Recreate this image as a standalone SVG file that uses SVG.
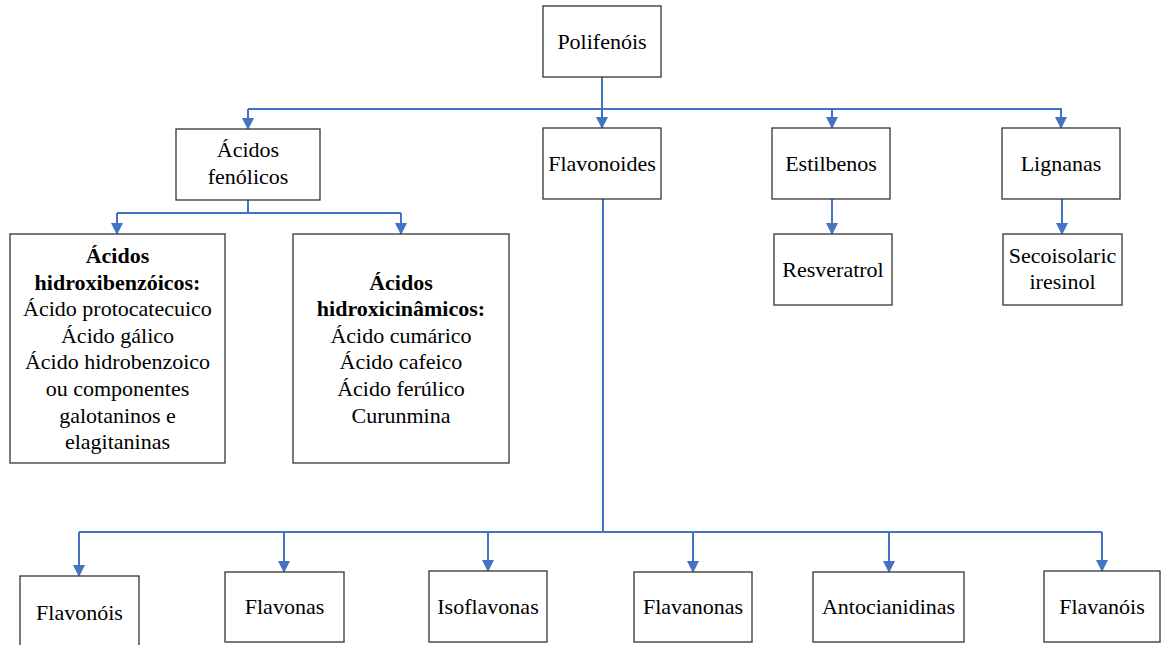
<svg xmlns="http://www.w3.org/2000/svg" width="1161" height="645" viewBox="0 0 1161 645">
<defs>
<style>
.box{fill:#fff;stroke:#333;stroke-width:1.3}
.t{font-family:'Liberation Serif','Times New Roman',serif;font-size:22px;fill:#000;text-anchor:middle}
.b{font-weight:bold}
.c{fill:none;stroke:#4472C4;stroke-width:2}
.a{stroke:#4472C4;stroke-width:2;fill:none;marker-end:url(#arr)}
</style>
<marker id="arr" markerUnits="userSpaceOnUse" markerWidth="12" markerHeight="12" refX="11" refY="6" orient="auto">
<path d="M0,0 L12,6 L0,12 z" fill="#4472C4"/>
</marker>
</defs>
<rect width="1161" height="645" fill="#fff"/>
<g id="connectors">
<path class="c" d="M602,77 V109 M248,109 H1062 M248,200 V213 M117,213 H401 M603,199 V532 M79,532 H1102"/>
<path class="a" d="M248,109 V129"/>
<path class="a" d="M602,109 V128"/>
<path class="a" d="M832,109 V128"/>
<path class="a" d="M1061,109 V128"/>
<path class="a" d="M117,213 V234"/>
<path class="a" d="M401,213 V234"/>
<path class="a" d="M832,199 V234"/>
<path class="a" d="M1062,199 V234"/>
<path class="a" d="M79,532 V576"/>
<path class="a" d="M284,532 V572"/>
<path class="a" d="M488,532 V571"/>
<path class="a" d="M693,532 V572"/>
<path class="a" d="M889,532 V572"/>
<path class="a" d="M1102,532 V571"/>
</g>
<g id="polifenois"><rect class="box" x="543" y="6" width="118" height="71"/><text class="t" x="602" y="49">Polifenóis</text></g>
<g id="acidos-fenolicos"><rect class="box" x="176" y="129" width="144" height="71"/><text class="t" x="248" y="157">Ácidos</text><text class="t" x="248" y="184">fenólicos</text></g>
<g id="flavonoides"><rect class="box" x="543" y="128" width="118" height="71"/><text class="t" x="602" y="171">Flavonoides</text></g>
<g id="estilbenos"><rect class="box" x="772" y="128" width="118" height="71"/><text class="t" x="831" y="171">Estilbenos</text></g>
<g id="lignanas"><rect class="box" x="1002" y="128" width="118" height="71"/><text class="t" x="1061" y="171">Lignanas</text></g>
<g id="hidroxibenzoicos"><rect class="box" x="10" y="234" width="215" height="229"/>
<text class="t b" x="117.5" y="263">Ácidos</text>
<text class="t b" x="117.5" y="290">hidroxibenzóicos:</text>
<text class="t" x="117.5" y="316">Ácido protocatecuico</text>
<text class="t" x="117.5" y="343">Ácido gálico</text>
<text class="t" x="117.5" y="369">Ácido hidrobenzoico</text>
<text class="t" x="117.5" y="396">ou componentes</text>
<text class="t" x="117.5" y="423">galotaninos e</text>
<text class="t" x="117.5" y="449">elagitaninas</text></g>
<g id="hidroxicinamicos"><rect class="box" x="293" y="234" width="216" height="229"/>
<text class="t b" x="401" y="290">Ácidos</text>
<text class="t b" x="401" y="316">hidroxicinâmicos:</text>
<text class="t" x="401" y="343">Ácido cumárico</text>
<text class="t" x="401" y="369">Ácido cafeico</text>
<text class="t" x="401" y="396">Ácido ferúlico</text>
<text class="t" x="401" y="423">Curunmina</text></g>
<g id="resveratrol"><rect class="box" x="774" y="234" width="118" height="71"/><text class="t" x="833" y="277">Resveratrol</text></g>
<g id="secoisolariciresinol"><rect class="box" x="1003" y="234" width="119" height="71"/><text class="t" x="1062.5" y="263">Secoisolaric</text><text class="t" x="1062.5" y="289">iresinol</text></g>
<g id="flavonois"><rect class="box" x="20" y="576" width="119" height="72"/><text class="t" x="79.5" y="620">Flavonóis</text></g>
<g id="flavonas"><rect class="box" x="225" y="572" width="119" height="70"/><text class="t" x="284.5" y="614">Flavonas</text></g>
<g id="isoflavonas"><rect class="box" x="429" y="571" width="118" height="71"/><text class="t" x="488" y="614">Isoflavonas</text></g>
<g id="flavanonas"><rect class="box" x="634" y="572" width="118" height="70"/><text class="t" x="693" y="614">Flavanonas</text></g>
<g id="antocianidinas"><rect class="box" x="813" y="572" width="151" height="70"/><text class="t" x="888.5" y="614">Antocianidinas</text></g>
<g id="flavanois"><rect class="box" x="1044" y="571" width="116" height="71"/><text class="t" x="1102" y="614">Flavanóis</text></g>
</svg>
